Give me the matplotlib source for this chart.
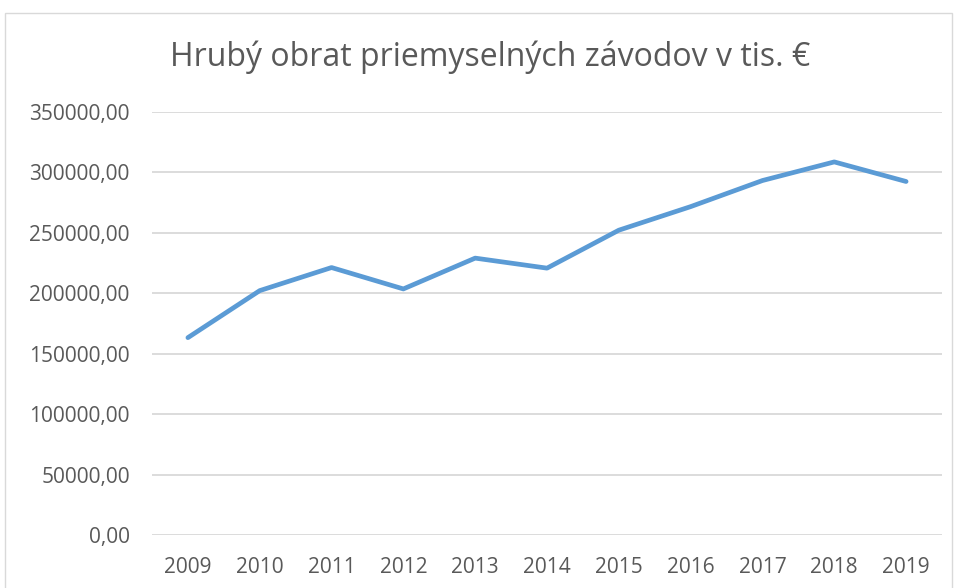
import matplotlib
matplotlib.use("Agg")
import matplotlib.pyplot as plt
from matplotlib.patches import Rectangle
from matplotlib import font_manager

years = ["2009", "2010", "2011", "2012", "2013", "2014", "2015", "2016", "2017", "2018", "2019"]
values = [163300, 202200, 221300, 203600, 229100, 220800, 252200, 271700, 293300, 308700, 292500]
yticks = [0, 50000, 100000, 150000, 200000, 250000, 300000, 350000]
title = "Hrubý obrat priemyselných závodov v tis. €"

names = {f.name for f in font_manager.fontManager.ttflist}
fam = "Liberation Sans Narrow" if "Liberation Sans Narrow" in names else "Open Sans"
plt.rcParams['font.family'] = [fam, 'DejaVu Sans']

W, H = 957, 588
fig = plt.figure(figsize=(W / 100, H / 100), dpi=100)
fig.patches.append(Rectangle((5 / W, -0.1), (952 - 5) / W, 1.1 - 13 / H + 0.0,
                             transform=fig.transFigure, fill=False,
                             edgecolor="#d9d9d9", linewidth=1.0))

ax = fig.add_axes([152 / W, 1 - 535 / H, (942 - 152) / W, (535 - 112) / H])
x = list(range(len(years)))
ax.plot(x, values, color="#5b9bd5", linewidth=3.4, solid_capstyle="round",
        solid_joinstyle="round", zorder=3)
ax.set_xlim(-0.5, len(years) - 0.5)
ax.set_ylim(0, 350000)
ax.set_yticks(yticks)
ax.set_yticklabels([f"{v:.2f}".replace(".", ",") for v in yticks])
ax.set_xticks(x)
ax.set_xticklabels(years)
ax.grid(axis="y", color="#d9d9d9", linewidth=1.3, zorder=0)
ax.set_axisbelow(True)
for s in ax.spines.values():
    s.set_visible(False)
ax.tick_params(axis="both", length=0, colors="#595959", labelsize=15)
ax.tick_params(axis="y", pad=16)
ax.tick_params(axis="x", pad=16)

fig.text(490 / W, 1 - 57 / H, title, ha="center", va="center",
         fontsize=23, color="#595959")

fig.savefig("out.png", dpi=100)
